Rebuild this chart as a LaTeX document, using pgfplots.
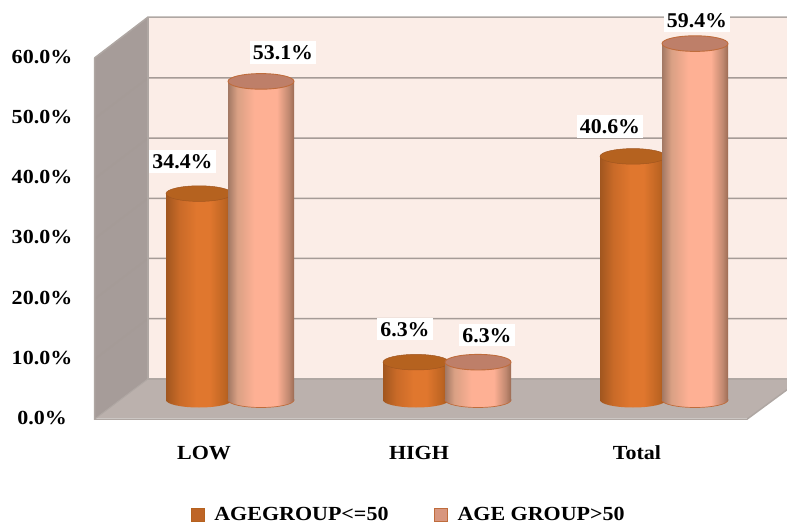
\documentclass[border=0pt]{standalone}
\usepackage{fontspec}
\setmainfont{Liberation Serif}[FakeStretch=1.1]
\newfontfamily\valuefont{Liberation Serif}[FakeStretch=1.04]
\usepackage{pgfplots}
\usepackage{pgfplotstable}
\pgfplotsset{compat=1.18}

\definecolor{wallback}{HTML}{FBEDE7}
\definecolor{wallside}{HTML}{A69C99}
\definecolor{floorcol}{HTML}{BBB1AD}
\definecolor{gridcol}{HTML}{A59B97}
\definecolor{edgecol}{HTML}{AFA7A3}

\definecolor{aE}{HTML}{A1561F}
\definecolor{aL}{HTML}{C96A28}
\definecolor{aM}{HTML}{E0772E}
\definecolor{aR}{HTML}{BC6422}
\definecolor{aX}{HTML}{9C541E}
\definecolor{aTop}{HTML}{B5621F}
\definecolor{bE}{HTML}{A27864}
\definecolor{bL}{HTML}{D9A084}
\definecolor{bM}{HTML}{FEB094}
\definecolor{bR}{HTML}{C08870}
\definecolor{bX}{HTML}{9C6C54}
\definecolor{bTop}{HTML}{BE7F69}
\definecolor{bLine}{HTML}{BF6C3C}

% Horizontal cylinder shadings; the path spans 25bp to 75bp of each one
\pgfdeclarehorizontalshading{cylA}{100bp}{color(0bp)=(aE); color(25bp)=(aE); color(35bp)=(aL); color(48bp)=(aM); color(58bp)=(aM); color(70bp)=(aR); color(75bp)=(aX); color(100bp)=(aX)}
\pgfdeclarehorizontalshading{cylB}{100bp}{color(0bp)=(bE); color(25bp)=(bE); color(32bp)=(bL); color(45bp)=(bM); color(62bp)=(bM); color(71bp)=(bR); color(75bp)=(bX); color(100bp)=(bX)}

% Cylinder ends, centred on the plotted point
\pgfdeclareplotmark{baseA}{\path[draw=none,shade,shading=cylA,rotate=6] (canvas cs:x=0pt,y=0pt) ellipse [x radius=33pt,y radius=7.5pt];}
\pgfdeclareplotmark{baseB}{\path[draw=bLine,line width=0.7pt,shade,shading=cylB,rotate=6] (canvas cs:x=0pt,y=0pt) ellipse [x radius=33pt,y radius=7.5pt];}
\pgfdeclareplotmark{topA}{\path[fill=aTop,draw=aE,line width=0.5pt,rotate=6] (canvas cs:x=0pt,y=0pt) ellipse [x radius=33pt,y radius=7.8pt];}
\pgfdeclareplotmark{topB}{\path[fill=bTop,draw=bLine,line width=0.9pt,rotate=6] (canvas cs:x=0pt,y=0pt) ellipse [x radius=33pt,y radius=7.8pt];}

\newcommand{\chartfont}{\fontsize{20}{22}\selectfont\bfseries}
\newcommand{\datafont}{\valuefont\fontsize{21}{23}\selectfont\bfseries}

% x: horizontal position, v: percent, dx/dy: offset of the value label
\pgfplotstableread{
x   v     dx    dy
199 34.4  -16.5 32
416 6.3   -11   33
633 40.6  -23   30
}\ageyoung
\pgfplotstableread{
x   v     dx    dy
261 53.1  22    29
478 6.3   9     27
695 59.4  2     23
}\ageold
\pgfplotstableread{
x   z
199 0
416 0
633 0
}\baseyoung
\pgfplotstableread{
x   z
261 0
478 0
695 0
}\baseold

\begin{document}
\begin{tikzpicture}
\path[use as bounding box] (0,0) rectangle (787pt,525pt);

% Chart box: back wall, side wall, floor, percent scale
\begin{axis}[
  at={(0,0)}, anchor=south west,
  scale only axis, width=787pt, height=525pt,
  xmin=0, xmax=787, ymin=-17.774, ymax=69.435,
  axis line style={draw=none},
  tick style={draw=none},
  axis on top=false,
  ytick={0,10,20,30,40,50,60},
  yticklabels={0.0\%,10.0\%,20.0\%,30.0\%,40.0\%,50.0\%,60.0\%},
  xtick={204,419,637},
  xticklabels={LOW,HIGH,Total},
  yticklabel style={font=\chartfont,anchor=center,xshift=42pt},
  xticklabel style={font=\chartfont,anchor=center,yshift=72pt},
  unbounded coords=jump,
]
\addplot[fill=wallback,draw=none] coordinates {(148,66.6) (787,66.6) (787,6.5) (148,6.5)} \closedcycle;
\addplot[fill=wallside,draw=none] coordinates {(94.5,59.8) (148,66.6) (148,6.5) (94.5,-0.2)} \closedcycle;
\addplot[fill=floorcol,draw=none] coordinates {(94.5,-0.2) (148,6.5) (787,6.5) (787,4.7) (747,-0.2)} \closedcycle;
% Gridlines run across the side wall and the back wall
\addplot[draw=gridcol,line width=1.5pt] coordinates {
 (95,9.8) (148,16.5) (787,16.5) (nan,nan)
 (95,19.8) (148,26.5) (787,26.5) (nan,nan)
 (95,29.8) (148,36.5) (787,36.5) (nan,nan)
 (95,39.8) (148,46.5) (787,46.5) (nan,nan)
 (95,49.8) (148,56.5) (787,56.5) (nan,nan)
};
\addplot[draw=edgecol,line width=1.5pt] coordinates {(94.5,59.8) (148,66.6) (787,66.6)};
\addplot[draw=edgecol,line width=1.5pt] coordinates {(148,66.6) (148,6.5) (787,6.5)};
\addplot[draw=edgecol,line width=1.5pt] coordinates {(94.5,59.8) (94.5,-0.2) (747,-0.2) (787,4.7)};
\addplot[draw=edgecol,line width=1pt] coordinates {(94.5,-0.2) (148,6.5)};
\end{axis}

% Cylinders, value labels, legend; each plot keeps its own stacking order
\begin{axis}[
  at={(0,0)}, anchor=south west,
  scale only axis, width=787pt, height=525pt,
  xmin=0, xmax=787, ymin=-20.833, ymax=66.667,
  axis lines=none,
  clip mode=individual,
  clip marker paths=true,
  legend style={at={(axis cs:409,-19.1)},anchor=center,draw=none,fill=none,
    legend columns=2,font=\chartfont,
    /tikz/every odd column/.append style={column sep=8pt},
    /tikz/every even column/.append style={column sep=44pt}},
  legend cell align=left,
  body A/.style={forget plot,ybar,bar width=66pt,bar shift=0pt,draw=none,shade,shading=cylA},
  body B/.style={forget plot,ybar,bar width=66pt,bar shift=0pt,draw=none,shade,shading=cylB},
  value label/.style={
    forget plot, only marks,
    visualization depends on={\thisrow{dx} \as \labdx},
    visualization depends on={\thisrow{dy} \as \labdy},
    nodes near coords={\pgfmathprintnumber[fixed,fixed zerofill,precision=1,assume math mode=true]{\pgfplotspointmeta}\%},
    nodes near coords align=center,
    point meta=y,
    every node near coord/.append style={font=\datafont,fill=white,text=black,
      inner xsep=3pt,inner ysep=4pt,xshift=\labdx pt,yshift=\labdy pt},
  },
]
\addplot[forget plot,only marks,mark=baseA] table[x=x,y=z] {\baseyoung};
\addplot[body A] coordinates {(199,34.4)};
\addplot[body A] coordinates {(416,6.3)};
\addplot[body A] coordinates {(633,40.6)};
\addplot[value label,mark=topA] table[x=x,y=v] {\ageyoung};

\addplot[forget plot,only marks,mark=baseB] table[x=x,y=z] {\baseold};
\addplot[body B] coordinates {(261,53.1)};
\addplot[body B] coordinates {(478,6.3)};
\addplot[body B] coordinates {(695,59.4)};
\addplot[value label,mark=topB] table[x=x,y=v] {\ageold};

\addlegendimage{only marks,mark=square*,mark size=6.5pt,mark options={fill=aM!85!black,draw=aTop}}
\addlegendentry{AGEGROUP<=50}
\addlegendimage{only marks,mark=square*,mark size=6.5pt,mark options={fill=bM!85!black,draw=bLine}}
\addlegendentry{AGE GROUP>50}
\end{axis}
\end{tikzpicture}
\end{document}
